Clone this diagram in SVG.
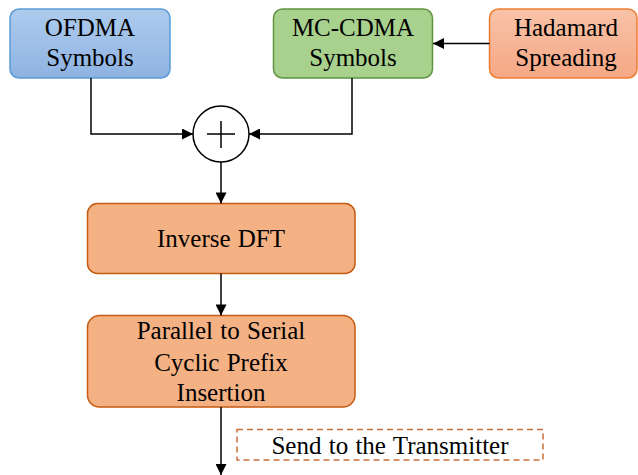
<svg xmlns="http://www.w3.org/2000/svg" width="638" height="475" viewBox="0 0 638 475">
<defs>
<linearGradient id="gBlue" x1="0" y1="0" x2="0" y2="1"><stop offset="0" stop-color="#aecbee"/><stop offset="1" stop-color="#8eb3e2"/></linearGradient>
<linearGradient id="gOrange" x1="0" y1="0" x2="0" y2="1"><stop offset="0" stop-color="#f8c3a8"/><stop offset="1" stop-color="#f5a784"/></linearGradient>
<marker id="arr" viewBox="0 0 10 10" refX="10" refY="5" markerWidth="12" markerHeight="11" markerUnits="userSpaceOnUse" orient="auto"><path d="M0,0 L10,5 L0,10 Z" fill="#000"/></marker>
</defs>
<style>
text{font-family:"Liberation Serif","Times New Roman",serif;font-size:25px;fill:#000;text-anchor:middle;word-spacing:1px}
.box{stroke-width:1.5}
.ln{fill:none;stroke:#000;stroke-width:1.5}
</style>
<g id="ofdma">
<rect class="box" x="10" y="9" width="160" height="69" rx="9" fill="url(#gBlue)" stroke="#5b9bd5"/>
<text x="90" y="36">OFDMA</text><text x="90" y="66">Symbols</text>
</g>
<g id="mccdma">
<rect class="box" x="273.5" y="9" width="159" height="69" rx="9" fill="#a9d18e" stroke="#5f9441"/>
<text x="353" y="36">MC-CDMA</text><text x="353" y="66">Symbols</text>
</g>
<g id="hadamard">
<rect class="box" x="489.5" y="9" width="147.5" height="69" rx="9" fill="url(#gOrange)" stroke="#ed7d31"/>
<text x="566" y="36">Hadamard</text><text x="566" y="66">Spreading</text>
</g>
<g id="sum">
<circle cx="221" cy="134" r="28" fill="#fff" stroke="#000" stroke-width="1.5"/>
<path d="M207 134 H235 M221 121 V148" stroke="#000" stroke-width="1.5" fill="none"/>
</g>
<g id="idft">
<rect class="box" x="87.5" y="203.5" width="267.5" height="70" rx="10" fill="#f4b183" stroke="#c55a11"/>
<text x="221" y="247">Inverse DFT</text>
</g>
<g id="ps">
<rect class="box" x="87.5" y="315.5" width="267.5" height="91.5" rx="12" fill="#f4b183" stroke="#c55a11"/>
<text x="221" y="339">Parallel to Serial</text>
<text x="221" y="371">Cyclic Prefix</text>
<text x="221" y="401">Insertion</text>
</g>
<g id="send">
<rect x="237" y="429.5" width="306" height="30.5" fill="none" stroke="#c9703a" stroke-width="1.5" stroke-dasharray="6,4"/>
<text x="390" y="454">Send to the Transmitter</text>
</g>
<g id="connectors">
<path class="ln" d="M489.5 43.5 H433" marker-end="url(#arr)"/>
<path class="ln" d="M91 78 V134 H193" marker-end="url(#arr)"/>
<path class="ln" d="M352 78 V134 H249" marker-end="url(#arr)"/>
<path class="ln" d="M221 162 V203.5" marker-end="url(#arr)"/>
<path class="ln" d="M221 273.5 V315.5" marker-end="url(#arr)"/>
<path class="ln" d="M221 407 V475" marker-end="url(#arr)"/>
</g>
</svg>
